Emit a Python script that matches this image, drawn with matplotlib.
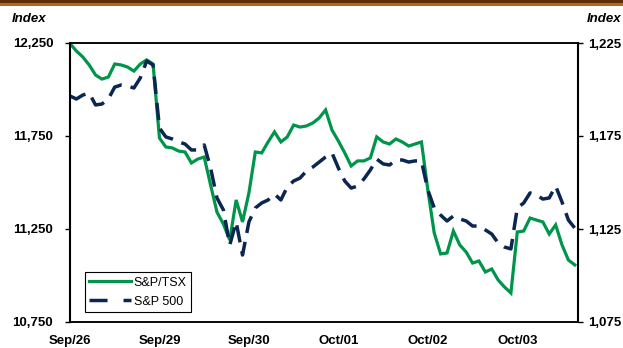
import matplotlib
matplotlib.use("Agg")
import matplotlib.pyplot as plt
from matplotlib.patches import Rectangle
from matplotlib.lines import Line2D

plt.rcParams['font.family'] = ['Liberation Sans', 'DejaVu Sans']
plt.rcParams['lines.scale_dashes'] = False

day_labels = ["Sep/26", "Sep/29", "Sep/30", "Oct/01", "Oct/02", "Oct/03"]
points_per_day = 14

tsx = [12247, 12207, 12175, 12132, 12078, 12056, 12067, 12137, 12132, 12121, 12099, 12137, 12159, 12137,
       11739, 11691, 11686, 11669, 11664, 11605, 11626, 11637, 11487, 11341, 11277, 11191, 11406, 11288,
       11444, 11664, 11659, 11718, 11772, 11718, 11745, 11809, 11798, 11804, 11820, 11847, 11890, 11782,
       11723, 11659, 11589, 11616, 11616, 11632, 11745, 11718, 11707, 11734, 11718, 11696, 11707, 11718,
       11460, 11229, 11116, 11121, 11239, 11164, 11126, 11067, 11078, 11019, 11035, 10976, 10938, 10906,
       11234, 11239, 11309, 11298, 11288, 11223, 11272, 11164, 11083, 11057]

sp500 = [1196.5, 1194.9, 1197.0, 1198.1, 1191.7, 1192.2, 1194.9, 1201.3, 1202.4, 1201.9, 1200.8, 1206.2, 1215.3, 1213.2,
         1179.3, 1174.5, 1173.4, 1171.8, 1170.7, 1167.5, 1167.5, 1170.2, 1157.8, 1141.7, 1135.3, 1116.4, 1128.8, 1111.0,
         1128.8, 1136.3, 1139.0, 1140.6, 1143.8, 1140.6, 1147.6, 1150.8, 1152.4, 1156.2, 1158.3, 1161.0, 1163.7, 1165.9,
         1157.8, 1150.8, 1147.0, 1148.1, 1151.9, 1156.7, 1162.6, 1160.0, 1159.4, 1162.1, 1162.1, 1161.0, 1161.6, 1161.6,
         1146.0, 1136.3, 1132.5, 1129.3, 1132.0, 1130.4, 1129.3, 1126.6, 1126.6, 1124.5, 1122.3, 1117.5, 1115.3, 1114.3,
         1136.3, 1139.0, 1144.4, 1143.3, 1141.1, 1141.7, 1148.1, 1139.5, 1129.8, 1125.5]

left_ticks = [10750, 11250, 11750, 12250]
right_ticks = [1075, 1125, 1175, 1225]

green = '#00954A'
navy = '#0B2650'

W, H = 623, 348
fig = plt.figure(figsize=(W / 100, H / 100), dpi=100)

# top brown band
fig.patches.append(Rectangle((0, 1 - 3.5 / H), 1, 3.5 / H, transform=fig.transFigure,
                             facecolor='#5E2E0B', edgecolor='none'))
fig.patches.append(Rectangle((0, 1 - 5.5 / H), 1, 2.0 / H, transform=fig.transFigure,
                             facecolor='#B8641C', edgecolor='none'))

ax = fig.add_axes([70 / W, 1 - 322 / H, (578 - 70) / W, (322 - 43) / H])
ax2 = ax.twinx()

x = list(range(len(tsx)))
l1, = ax.plot(x, tsx, color=green, lw=2.3, solid_joinstyle='miter')
l2, = ax2.plot(x, sp500, color=navy, lw=2.5, linestyle=(0, (12.5, 6.5)))

ax.set_xlim(0, 79.5)
ax.set_ylim(left_ticks[0], left_ticks[-1])
ax2.set_ylim(right_ticks[0], right_ticks[-1])

ax.set_xticks([i * points_per_day for i in range(len(day_labels))])
ax.set_xticklabels(day_labels, fontsize=9.5, fontweight='bold')
ax.tick_params(axis='x', length=0, pad=9.5)

ax.set_yticks(left_ticks)
ax.set_yticklabels([f"{v:,}" for v in left_ticks], fontsize=9.5, fontweight='bold')
ax.tick_params(axis='y', direction='out', length=3.6, width=1, pad=8.5)
ax2.set_yticks(right_ticks)
ax2.set_yticklabels([f"{v:,}" for v in right_ticks], fontsize=9.5, fontweight='bold')
ax2.tick_params(axis='y', direction='out', length=3.6, width=1, pad=3.5)

for a in (ax, ax2):
    for s in a.spines.values():
        s.set_color('black')
        s.set_linewidth(1.1)
ax2.spines['left'].set_linewidth(1.5)
ax2.spines['right'].set_linewidth(1.5)

fig.text(12 / W, 1 - 19 / H, "Index", fontsize=9.5, fontweight='bold', fontstyle='italic',
         ha='left', va='center')
fig.text(621 / W, 1 - 19 / H, "Index", fontsize=9.5, fontweight='bold', fontstyle='italic',
         ha='right', va='center')

h1 = Line2D([], [], color=green, lw=2.3)
h2 = Line2D([], [], color=navy, lw=2.5, linestyle=(0, (13, 11.5)))
leg = ax2.legend([h1, h2], ["S&P/TSX", "S&P 500"], loc='lower left',
                 bbox_to_anchor=(15 / 508, 10 / 279), fontsize=9, frameon=True, fancybox=False,
                 edgecolor='black', framealpha=1, handlelength=3.3, handletextpad=0.25,
                 borderpad=0.35, labelspacing=0.55, borderaxespad=0)
leg.get_frame().set_linewidth(0.8)

fig.savefig("out.png", dpi=100)
